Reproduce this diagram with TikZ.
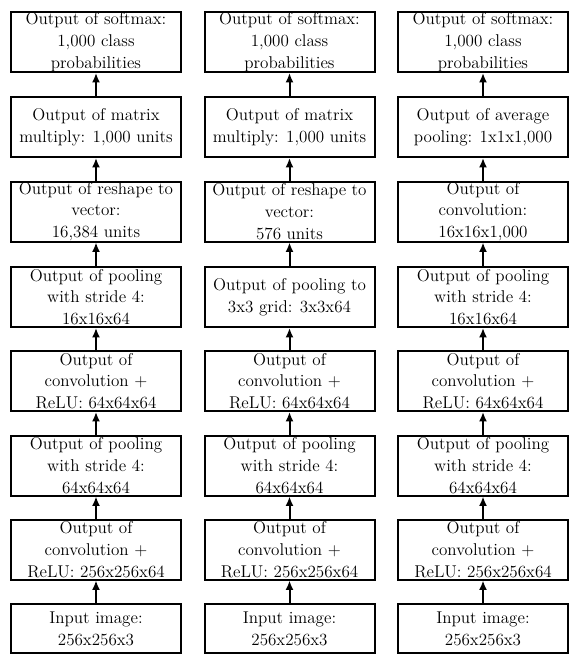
\documentclass[tikz,border=0pt]{standalone}
\usetikzlibrary{arrows.meta}
\begin{document}
\begin{tikzpicture}[x=0.75pt,y=-0.75pt,
  box/.style={draw,line width=1.5pt,minimum width=127.5pt,minimum height=45pt,inner sep=0pt,
    align=center,font=\fontsize{12.8}{16.3}\selectfont},
  inbox/.style={box,minimum height=36.75pt},
  arr/.style={-{Latex[length=7pt,width=6pt]},line width=1.5pt}]
\useasboundingbox (0,0) rectangle (581,665);
% column 1
\node[inbox] (a0) at (96,628.5) {Input image:\\256x256x3};
\node[box] (a1) at (96,549.5) {Output of\\convolution +\\ReLU: 256x256x64};
\node[box] (a2) at (96,465.5) {Output of pooling\\with stride 4:\\64x64x64};
\node[box] (a3) at (96,381) {Output of\\convolution +\\ReLU: 64x64x64};
\node[box] (a4) at (96,297) {Output of pooling\\with stride 4:\\16x16x64};
\node[box] (a5) at (96,211.5) {Output of reshape to\\vector:\\16,384 units};
\node[box] (a6) at (96,127) {Output of matrix\\multiply: 1,000 units};
\node[box] (a7) at (96,42) {Output of softmax:\\1,000 class\\probabilities};
% column 2
\node[inbox] (b0) at (289.5,628.5) {Input image:\\256x256x3};
\node[box] (b1) at (289.5,549.5) {Output of\\convolution +\\ReLU: 256x256x64};
\node[box] (b2) at (289.5,465.5) {Output of pooling\\with stride 4:\\64x64x64};
\node[box] (b3) at (289.5,381) {Output of\\convolution +\\ReLU: 64x64x64};
\node[box] (b4) at (289.5,297) {Output of pooling to\\3x3 grid: 3x3x64};
\node[box] (b5) at (289.5,211.5) {Output of reshape to\\vector:\\576 units};
\node[box] (b6) at (289.5,127) {Output of matrix\\multiply: 1,000 units};
\node[box] (b7) at (289.5,42) {Output of softmax:\\1,000 class\\probabilities};
% column 3
\node[inbox] (c0) at (483,628.5) {Input image:\\256x256x3};
\node[box] (c1) at (483,549.5) {Output of\\convolution +\\ReLU: 256x256x64};
\node[box] (c2) at (483,465.5) {Output of pooling\\with stride 4:\\64x64x64};
\node[box] (c3) at (483,381) {Output of\\convolution +\\ReLU: 64x64x64};
\node[box] (c4) at (483,297) {Output of pooling\\with stride 4:\\16x16x64};
\node[box] (c5) at (483,211.5) {Output of\\convolution:\\16x16x1,000};
\node[box] (c6) at (483,127) {Output of average\\pooling: 1x1x1,000};
\node[box] (c7) at (483,42) {Output of softmax:\\1,000 class\\probabilities};
\foreach \c in {a,b,c}{
  \draw[arr] (\c0) -- (\c1);
  \draw[arr] (\c1) -- (\c2);
  \draw[arr] (\c2) -- (\c3);
  \draw[arr] (\c3) -- (\c4);
  \draw[arr] (\c4) -- (\c5);
  \draw[arr] (\c5) -- (\c6);
  \draw[arr] (\c6) -- (\c7);
}
\end{tikzpicture}
\end{document}
